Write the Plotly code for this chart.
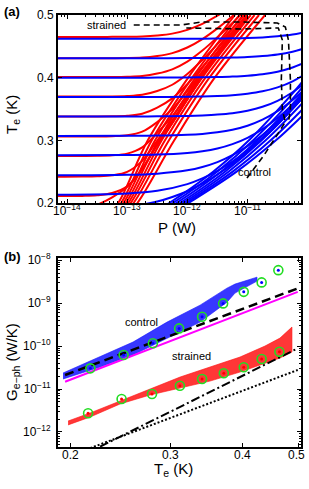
import math
import plotly.graph_objects as go

W, H = 309, 489

# ---------------- panel (a) data : log10(P / W) grid and Te (K) ----------------
LP_RED = [-14.15, -13.75, -13.5, -13.25, -13.0, -12.75, -12.5, -12.25, -12.0, -11.75, -11.5, -11.25, -11.0]
TE_RED = [
    [0.4650, 0.4650, 0.4650, 0.4651, 0.4652, 0.4657, 0.4673, 0.4703, 0.4763, 0.4859, 0.4989, 0.5145, 0.535],
    [0.4310, 0.4310, 0.4310, 0.4311, 0.4313, 0.4321, 0.4346, 0.4392, 0.4481, 0.4615, 0.4787, 0.4981, 0.5198],
    [0.4010, 0.4010, 0.4010, 0.4010, 0.4014, 0.4026, 0.4065, 0.4133, 0.4256, 0.4433, 0.4645, 0.4872, 0.5115],
    [0.3700, 0.3700, 0.3700, 0.3700, 0.3707, 0.3727, 0.3787, 0.3887, 0.4058, 0.4283, 0.4535, 0.4791, 0.5055],
    [0.3380, 0.3380, 0.3380, 0.3383, 0.3391, 0.3425, 0.3522, 0.3669, 0.3897, 0.4172, 0.4458, 0.4737, 0.5016],
    [0.3060, 0.3060, 0.3061, 0.3066, 0.3080, 0.3138, 0.3292, 0.3499, 0.3785, 0.4100, 0.4410, 0.4704, 0.4993],
    [0.2750, 0.2751, 0.2753, 0.2761, 0.2788, 0.2888, 0.3119, 0.3386, 0.3718, 0.4060, 0.4385, 0.4689, 0.4984],
    [0.2420, 0.2421, 0.2426, 0.2443, 0.2497, 0.2672, 0.2995, 0.3314, 0.3677, 0.4035, 0.4370, 0.4677, 0.4974],
    [0.2110, 0.2113, 0.2123, 0.2160, 0.2265, 0.2535, 0.2932, 0.3281, 0.3659, 0.4025, 0.4364, 0.4672, 0.4971],
    [0.1800, 0.1880, 0.1970, 0.2090, 0.2260, 0.2550, 0.2930, 0.3274, 0.3653, 0.4022, 0.4362, 0.4671, 0.4970],
]
# strained bundle: log10(P) where each curve reaches these Te levels
TE_BUNDLE_RED = [0.18, 0.2, 0.3, 0.4, 0.5]
LP_BUNDLE_RED = [
    [-13.350, -13.150, -12.657, -11.985, -11.208],
    [-13.302, -13.102, -12.591, -11.919, -11.133],
    [-13.262, -13.062, -12.536, -11.864, -11.071],
    [-13.222, -13.022, -12.481, -11.809, -11.008],
    [-13.182, -12.982, -12.426, -11.754, -10.946],
    [-13.142, -12.942, -12.371, -11.699, -10.883],
    [-13.094, -12.894, -12.305, -11.633, -10.808],
    [-13.030, -12.830, -12.217, -11.545, -10.708],
]

LP_BLUE = [-14.15, -13.0, -12.5, -12.0, -11.75, -11.5, -11.25, -11.0, -10.75, -10.5, -10.25, -10.0]
TE_BLUE = [
    [0.4620, 0.4620, 0.4620, 0.4621, 0.4622, 0.4624, 0.4627, 0.4632, 0.4642, 0.4659, 0.4687, 0.4735],
    [0.4310, 0.4310, 0.4311, 0.4312, 0.4314, 0.4316, 0.4321, 0.4330, 0.4345, 0.4370, 0.4414, 0.4484],
    [0.4000, 0.4000, 0.4001, 0.4003, 0.4006, 0.4010, 0.4018, 0.4032, 0.4056, 0.4096, 0.4162, 0.4263],
    [0.3690, 0.3691, 0.3692, 0.3696, 0.3700, 0.3708, 0.3721, 0.3744, 0.3782, 0.3845, 0.3942, 0.4083],
    [0.3380, 0.3381, 0.3383, 0.3390, 0.3398, 0.3411, 0.3434, 0.3473, 0.3535, 0.3630, 0.3767, 0.3950],
    [0.3070, 0.3072, 0.3076, 0.3089, 0.3103, 0.3128, 0.3168, 0.3232, 0.3329, 0.3465, 0.3643, 0.3863],
    [0.2760, 0.2764, 0.2772, 0.2798, 0.2825, 0.2869, 0.2939, 0.3040, 0.3178, 0.3355, 0.3568, 0.3813],
    [0.2441, 0.2449, 0.2468, 0.2521, 0.2574, 0.2652, 0.2763, 0.2907, 0.3084, 0.3291, 0.3527, 0.3787],
    [0.2132, 0.2152, 0.2194, 0.2301, 0.2392, 0.2512, 0.2662, 0.2838, 0.3039, 0.3263, 0.3508, 0.3765],
    [0.1903, 0.1945, 0.2023, 0.2187, 0.2309, 0.2455, 0.2624, 0.2814, 0.3024, 0.3254, 0.3504, 0.3774],
]
# control bundle: points (log10 P, Te)
LP_BUNDLE_BLUE = [
    [-12.47, -12.30, -11.571, -10.975, -10.10, -9.95],
    [-12.41, -12.24, -11.505, -10.904, -10.10, -9.95],
    [-12.35, -12.18, -11.438, -10.833, -10.10, -9.95],
    [-12.29, -12.12, -11.374, -10.765, -10.10, -9.95],
    [-12.24, -12.07, -11.315, -10.698, -10.10, -9.95],
    [-12.19, -12.02, -11.246, -10.614, -10.10, -9.95],
    [-12.15, -11.98, -11.181, -10.527, -10.10, -9.95],
]
TE_BUNDLE_BLUE = [
    [0.19, 0.2, 0.25, 0.3, 0.392, 0.412],
    [0.19, 0.2, 0.25, 0.3, 0.383, 0.402],
    [0.19, 0.2, 0.25, 0.3, 0.374, 0.392],
    [0.19, 0.2, 0.25, 0.3, 0.366, 0.383],
    [0.19, 0.2, 0.25, 0.3, 0.358, 0.374],
    [0.19, 0.2, 0.25, 0.3, 0.348, 0.363],
    [0.19, 0.2, 0.25, 0.3, 0.338, 0.352],
]
# dashed black outlines
LP_DASH_STRAINED = [-12.891, -12.101, -11.765, -11.092, -10.504, -10.370, -10.319, -10.286, -10.286, -10.319]
TE_DASH_STRAINED = [0.4840, 0.4840, 0.4888, 0.4888, 0.4872, 0.4809, 0.4601, 0.3963, 0.3484, 0.3293]
LP_DASH_CONTROL = [-11.008, -10.723, -10.454, -10.370, -10.420, -10.437, -10.420, -10.487, -11.092, -12.017]
TE_DASH_CONTROL = [0.2399, 0.2766, 0.3165, 0.3293, 0.3484, 0.3963, 0.4601, 0.4793, 0.4777, 0.4793]

# ---------------- panel (b) data ----------------
T_CIRC_CTRL = [0.217, 0.248, 0.279, 0.310, 0.340, 0.370, 0.402, 0.432, 0.462]
G_CIRC_CTRL = [3.03e-11, 6.18e-11, 1.16e-10, 2.58e-10, 4.80e-10, 9.84e-10, 1.83e-9, 3.03e-9, 5.85e-9]
T_CIRC_STR = [0.215, 0.246, 0.278, 0.311, 0.340, 0.371, 0.402, 0.432, 0.464]
G_CIRC_STR = [2.72e-12, 5.85e-12, 7.65e-12, 1.19e-11, 1.71e-11, 2.32e-11, 3.20e-11, 4.99e-11, 7.36e-11]

# scatter clouds outlined as closed bands (upper edge then lower edge back)
T_BAND_CTRL = [0.1944, 0.2256, 0.2576, 0.2953, 0.3373, 0.3758, 0.3881, 0.4240,
               0.4240, 0.3881, 0.3758, 0.3373, 0.2953, 0.2576, 0.2256, 0.1944]
G_BAND_CTRL = [2.36e-11, 5.55e-11, 1.24e-10, 3.61e-10, 8.97e-10, 2.23e-9, 2.77e-9, 4.02e-9,
               3.25e-9, 1.71e-9, 1.05e-9, 3.61e-10, 1.53e-10, 6.18e-11, 3.25e-11, 1.71e-11]
T_BAND_STR = [0.1984, 0.2168, 0.2445, 0.2758, 0.3112, 0.3510, 0.3960, 0.4378, 0.4650, 0.4880,
              0.4880, 0.4650, 0.4378, 0.3960, 0.3510, 0.3112, 0.2758, 0.2445, 0.2168, 0.1984]
G_BAND_STR = [1.80e-12, 2.77e-12, 5.26e-12, 1.00e-11, 1.90e-11, 3.25e-11, 5.55e-11, 1.00e-10, 1.53e-10, 2.77e-10,
              7.25e-11, 5.26e-11, 4.03e-11, 2.48e-11, 1.53e-11, 1.05e-11, 7.25e-12, 4.48e-12, 2.23e-12, 1.46e-12]

T_MAGENTA = [0.196, 0.4994]
G_MAGENTA = [1.48e-11, 1.83e-9]
T_DASHED = [0.196, 0.4994]
G_DASHED = [2.12e-11, 2.2e-9]
T_DASHDOT = [0.2256, 0.4994]
G_DASHDOT = [4.55e-13, 8.85e-11]
T_DOTTED = [0.2168, 0.4994]
G_DOTTED = [4.2e-13, 2.77e-11]

# tick labels
P_TICKS = [1e-14, 1e-13, 1e-12, 1e-11]
P_TICK_TEXT = ["10<sup>−14</sup>", "10<sup>−13</sup>", "10<sup>−12</sup>", "10<sup>−11</sup>"]
TE_TICKS = [0.2, 0.3, 0.4, 0.5]
TE_TICK_TEXT = ["0.2", "0.3", "0.4", "0.5"]
G_TICKS = [1e-12, 1e-11, 1e-10, 1e-9, 1e-8]
G_TICK_TEXT = ["10<sup>−12</sup>", "10<sup>−11</sup>", "10<sup>−10</sup>", "10<sup>−9</sup>", "10<sup>−8</sup>"]
P_MINOR = [m * 10.0 ** e for e in (-15, -14, -13, -12, -11) for m in range(2, 10)]
G_MINOR = [m * 10.0 ** e for e in (-13, -12, -11, -10, -9) for m in range(2, 10)]

FONT = "Liberation Sans, Arial, sans-serif"
RED, BLUE = "#ff0000", "#0000ff"

fig = go.Figure()

def P(lst):
    return [10 ** v for v in lst]

for te in TE_RED:
    fig.add_trace(go.Scatter(x=P(LP_RED), y=te, mode="lines", xaxis="x", yaxis="y",
                             line=dict(color=RED, width=2, shape="spline")))
for lp in LP_BUNDLE_RED:
    fig.add_trace(go.Scatter(x=P(lp), y=TE_BUNDLE_RED, mode="lines", xaxis="x", yaxis="y",
                             line=dict(color=RED, width=2, shape="spline")))
for te in TE_BLUE:
    fig.add_trace(go.Scatter(x=P(LP_BLUE), y=te, mode="lines", xaxis="x", yaxis="y",
                             line=dict(color=BLUE, width=2, shape="spline")))
for lp, te in zip(LP_BUNDLE_BLUE, TE_BUNDLE_BLUE):
    fig.add_trace(go.Scatter(x=P(lp), y=te, mode="lines", xaxis="x", yaxis="y",
                             line=dict(color=BLUE, width=2, shape="spline")))
for lp, te in ((LP_DASH_STRAINED, TE_DASH_STRAINED), (LP_DASH_CONTROL, TE_DASH_CONTROL)):
    fig.add_trace(go.Scatter(x=P(lp), y=te, mode="lines", xaxis="x", yaxis="y",
                             line=dict(color="black", width=1.6, dash="6px,4px")))

# panel b
fig.add_trace(go.Scatter(x=T_BAND_CTRL, y=G_BAND_CTRL, mode="lines", fill="toself", xaxis="x2", yaxis="y2",
                         fillcolor="rgba(20,20,255,0.85)", line=dict(color="rgba(20,20,255,0.6)", width=1)))
fig.add_trace(go.Scatter(x=T_BAND_STR, y=G_BAND_STR, mode="lines", fill="toself", xaxis="x2", yaxis="y2",
                         fillcolor="rgba(255,20,20,0.85)", line=dict(color="rgba(255,20,20,0.6)", width=1)))
fig.add_trace(go.Scatter(x=T_DASHED, y=G_DASHED, mode="lines", xaxis="x2", yaxis="y2",
                         line=dict(color="black", width=2.5, dash="9px,5px")))
fig.add_trace(go.Scatter(x=T_MAGENTA, y=G_MAGENTA, mode="lines", xaxis="x2", yaxis="y2",
                         line=dict(color="#ff00ff", width=2)))
fig.add_trace(go.Scatter(x=T_DASHDOT, y=G_DASHDOT, mode="lines", xaxis="x2", yaxis="y2",
                         line=dict(color="black", width=2, dash="9px,3px,2px,3px")))
fig.add_trace(go.Scatter(x=T_DOTTED, y=G_DOTTED, mode="lines", xaxis="x2", yaxis="y2",
                         line=dict(color="black", width=2, dash="2px,2px")))
for t, g, c in ((T_CIRC_CTRL, G_CIRC_CTRL, BLUE), (T_CIRC_STR, G_CIRC_STR, RED)):
    fig.add_trace(go.Scatter(x=t, y=g, mode="markers", xaxis="x2", yaxis="y2",
                             marker=dict(symbol="circle", size=3, color=c)))
    fig.add_trace(go.Scatter(x=t, y=g, mode="markers", xaxis="x2", yaxis="y2",
                             marker=dict(symbol="circle-open", size=9, color="#22dd22", line=dict(width=1.6))))

axis_common = dict(showline=True, linewidth=2, linecolor="black", mirror="ticks", ticks="inside",
                   ticklen=4, tickwidth=1, tickcolor="black", showgrid=False, zeroline=False,
                   automargin=False, tickfont=dict(family=FONT, size=12, color="black"))

fig.update_layout(
    width=W, height=H, margin=dict(l=0, r=0, t=0, b=0, pad=0, autoexpand=False), showlegend=False,
    paper_bgcolor="white", plot_bgcolor="white",
    xaxis=dict(type="log", domain=[58 / W, 301 / W], range=[-14.15, -10.11], anchor="y",
               tickvals=P_TICKS, showticklabels=False,
               minor=dict(ticks="inside", ticklen=2, tickcolor="black", tickvals=P_MINOR, showgrid=False),
               **axis_common),
    yaxis=dict(domain=[1 - 203 / H, 1 - 15 / H], range=[0.2, 0.5], anchor="x",
               tickvals=TE_TICKS, ticktext=TE_TICK_TEXT, **axis_common),
    xaxis2=dict(type="log", domain=[58 / W, 301 / W], range=[-0.7201, -0.2958], anchor="y2",
                tickvals=TE_TICKS, showticklabels=False, **axis_common),
    yaxis2=dict(type="log", domain=[1 - 447 / H, 1 - 258 / H], range=[-12.35, -7.95], anchor="x2",
                tickvals=G_TICKS, ticktext=G_TICK_TEXT, ticklabelstandoff=3,
                minor=dict(ticks="inside", ticklen=2, tickcolor="black", tickvals=G_MINOR, showgrid=False),
                **axis_common),
)

def ann(text, x, y, size=12, bold=False, angle=0, xanchor="center", yanchor="middle", xr=None, yr=None):
    d = dict(text=("<b>%s</b>" % text) if bold else text, showarrow=False, textangle=angle,
             font=dict(family=FONT, size=size, color="black"), xanchor=xanchor, yanchor=yanchor)
    if xr:
        d.update(x=x, y=y, xref=xr, yref=yr)
    else:
        d.update(x=x / W, y=1 - y / H, xref="paper", yref="paper")
    fig.add_annotation(**d)

# x tick labels placed on the axes' own log scale
for v, s in zip(P_TICKS, P_TICK_TEXT):
    fig.add_annotation(text=s, x=math.log10(v), xref="x", y=1 - 201 / H, yref="paper", showarrow=False,
                       xanchor="center", yanchor="top", borderpad=0,
                       font=dict(family=FONT, size=12, color="black"))
for v, s in zip(TE_TICKS, TE_TICK_TEXT):
    fig.add_annotation(text=s, x=math.log10(v), xref="x2", y=1 - 455 / H, yref="paper", showarrow=False,
                       xanchor="center", yanchor="middle", borderpad=0, xshift=(-2 if v == 0.5 else 0),
                       font=dict(family=FONT, size=12, color="black"))

ann("(a)", 2, 11, size=13, bold=True, xanchor="left")
ann("(b)", 2, 256, size=13, bold=True, xanchor="left")
ann("T<sub>e</sub> (K)", 12, 114, size=15, angle=-90)
ann("P (W)", 177, 227, size=15)
ann("G<sub>e−ph</sub> (W/K)", 12, 362, size=15, angle=-90)
ann("T<sub>e</sub> (K)", 173, 469, size=15)
# in-plot labels (data coordinates)
ann("strained", -13.336, 0.484, size=11, xr="x", yr="y")
ann("control", -10.891, 0.2495, size=11, xr="x", yr="y")
ann("control", -0.5742, -9.435, size=11, xr="x2", yr="y2")
ann("strained", -0.487, -10.226, size=11, xr="x2", yr="y2")

fig.write_html("out.html", config={"displayModeBar": False, "staticPlot": True},
               post_script="document.body.style.margin='0px';document.body.style.overflow='hidden';")
